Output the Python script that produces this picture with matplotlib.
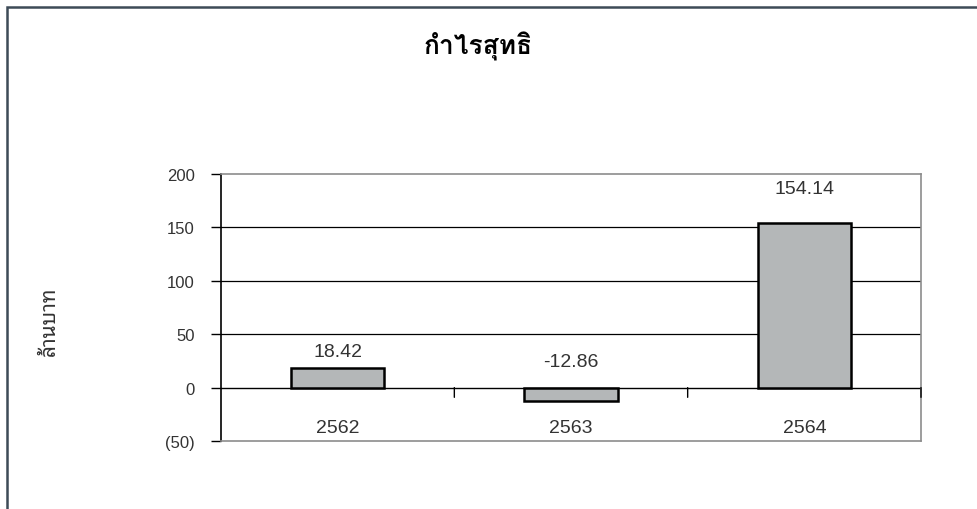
import matplotlib
matplotlib.use("Agg")
import matplotlib.pyplot as plt
from matplotlib import font_manager
from matplotlib.ticker import FixedLocator, FuncFormatter
import matplotlib.transforms as mtransforms
from matplotlib.patches import Rectangle

# ---- data ----
title = "กำไรสุทธิ"
y_label = "ล้านบาท"
categories = ["2562", "2563", "2564"]
values = [18.42, -12.86, 154.14]
value_labels = ["18.42", "-12.86", "154.14"]
y_ticks = [-50, 0, 50, 100, 150, 200]

# ---- fonts ----
entries = font_manager.fontManager.ttflist
available = {f.name for f in entries}
bold_available = {f.name for f in entries if (isinstance(f.weight, int) and f.weight >= 700) or f.weight == "bold"}
thai_pref = ["Tahoma", "Noto Sans Thai Looped", "Loma", "Sarabun", "Noto Sans Thai",
             "Garuda", "Bai Jamjuree", "Athiti"]
thai_font = next((n for n in thai_pref if n in available), "DejaVu Sans")
thai_bold = next((n for n in thai_pref if n in bold_available), thai_font)
num_font = next((n for n in ["Liberation Sans", "Arial", "DejaVu Sans"] if n in available), "DejaVu Sans")
plt.rcParams['font.family'] = [num_font, thai_font, 'DejaVu Sans']

text_color = "#333333"

fig = plt.figure(figsize=(9.77, 5.10), dpi=100)
W, H = 977, 510
ax = fig.add_axes([221 / W, 1 - 442 / H, 700 / W, 267 / H])

x = list(range(len(categories)))
ax.bar(x, values, width=0.4, color="#b4b7b8", edgecolor="black", linewidth=1.8, zorder=3)

ax.set_xlim(-0.5, len(categories) - 0.5)
ax.set_ylim(min(y_ticks), max(y_ticks))

# gridlines
for t in y_ticks[2:-1]:
    ax.axhline(t, color="black", linewidth=0.9, zorder=1)
ax.axhline(0, color="black", linewidth=1.0, zorder=2)

# category-boundary ticks on the zero line
for b in [i + 0.5 for i in x]:
    ax.annotate("", xy=(b, 0), xytext=(0, -7), textcoords="offset points",
                arrowprops=dict(arrowstyle="-", color="black", lw=1.0,
                                shrinkA=0, shrinkB=0), annotation_clip=False)

# spines
for s in ["top", "right", "bottom"]:
    ax.spines[s].set_color("#8c8c8c")
    ax.spines[s].set_linewidth(1.2)
ax.spines["left"].set_color("black")
ax.spines["left"].set_linewidth(1.2)

ax.yaxis.set_major_locator(FixedLocator(y_ticks))
ax.yaxis.set_major_formatter(FuncFormatter(lambda v, p: f"({abs(int(v))})" if v < 0 else f"{int(v)}"))
ax.tick_params(axis="y", direction="out", length=7, width=1.0, color="black",
               labelsize=12, labelcolor=text_color, pad=12)
ax.set_xticks([])

# category labels inside plot near bottom
for xi, c in zip(x, categories):
    ax.text(xi, 0.05, c, transform=mtransforms.blended_transform_factory(ax.transData, ax.transAxes),
            ha="center", va="center", fontsize=14, color=text_color)

# value labels
label_offsets_pt = [12, 19, 25]
for xi, v, lab, off in zip(x, values, value_labels, label_offsets_pt):
    ax.annotate(lab, xy=(xi, max(v, 0)), xytext=(0, off), textcoords="offset points",
                ha="center", va="center", fontsize=14, color=text_color)

# title and y label
fig.text(478 / W, 1 - 46 / H, title, ha="center", va="center", fontsize=19,
         fontweight="bold", color="black", family=[thai_bold, "DejaVu Sans"])
fig.text(49 / W, 1 - 321 / H, y_label, ha="center", va="center", rotation=90,
         fontsize=15, color=text_color, family=[thai_font, "DejaVu Sans"])

# outer frame
fig.add_artist(Rectangle((6.5 / W, -0.1), 1.2, 1 - 8 / H + 0.1, transform=fig.transFigure,
                         fill=False, edgecolor="#3d4b57", linewidth=1.8))

fig.savefig("out.png", dpi=100)
